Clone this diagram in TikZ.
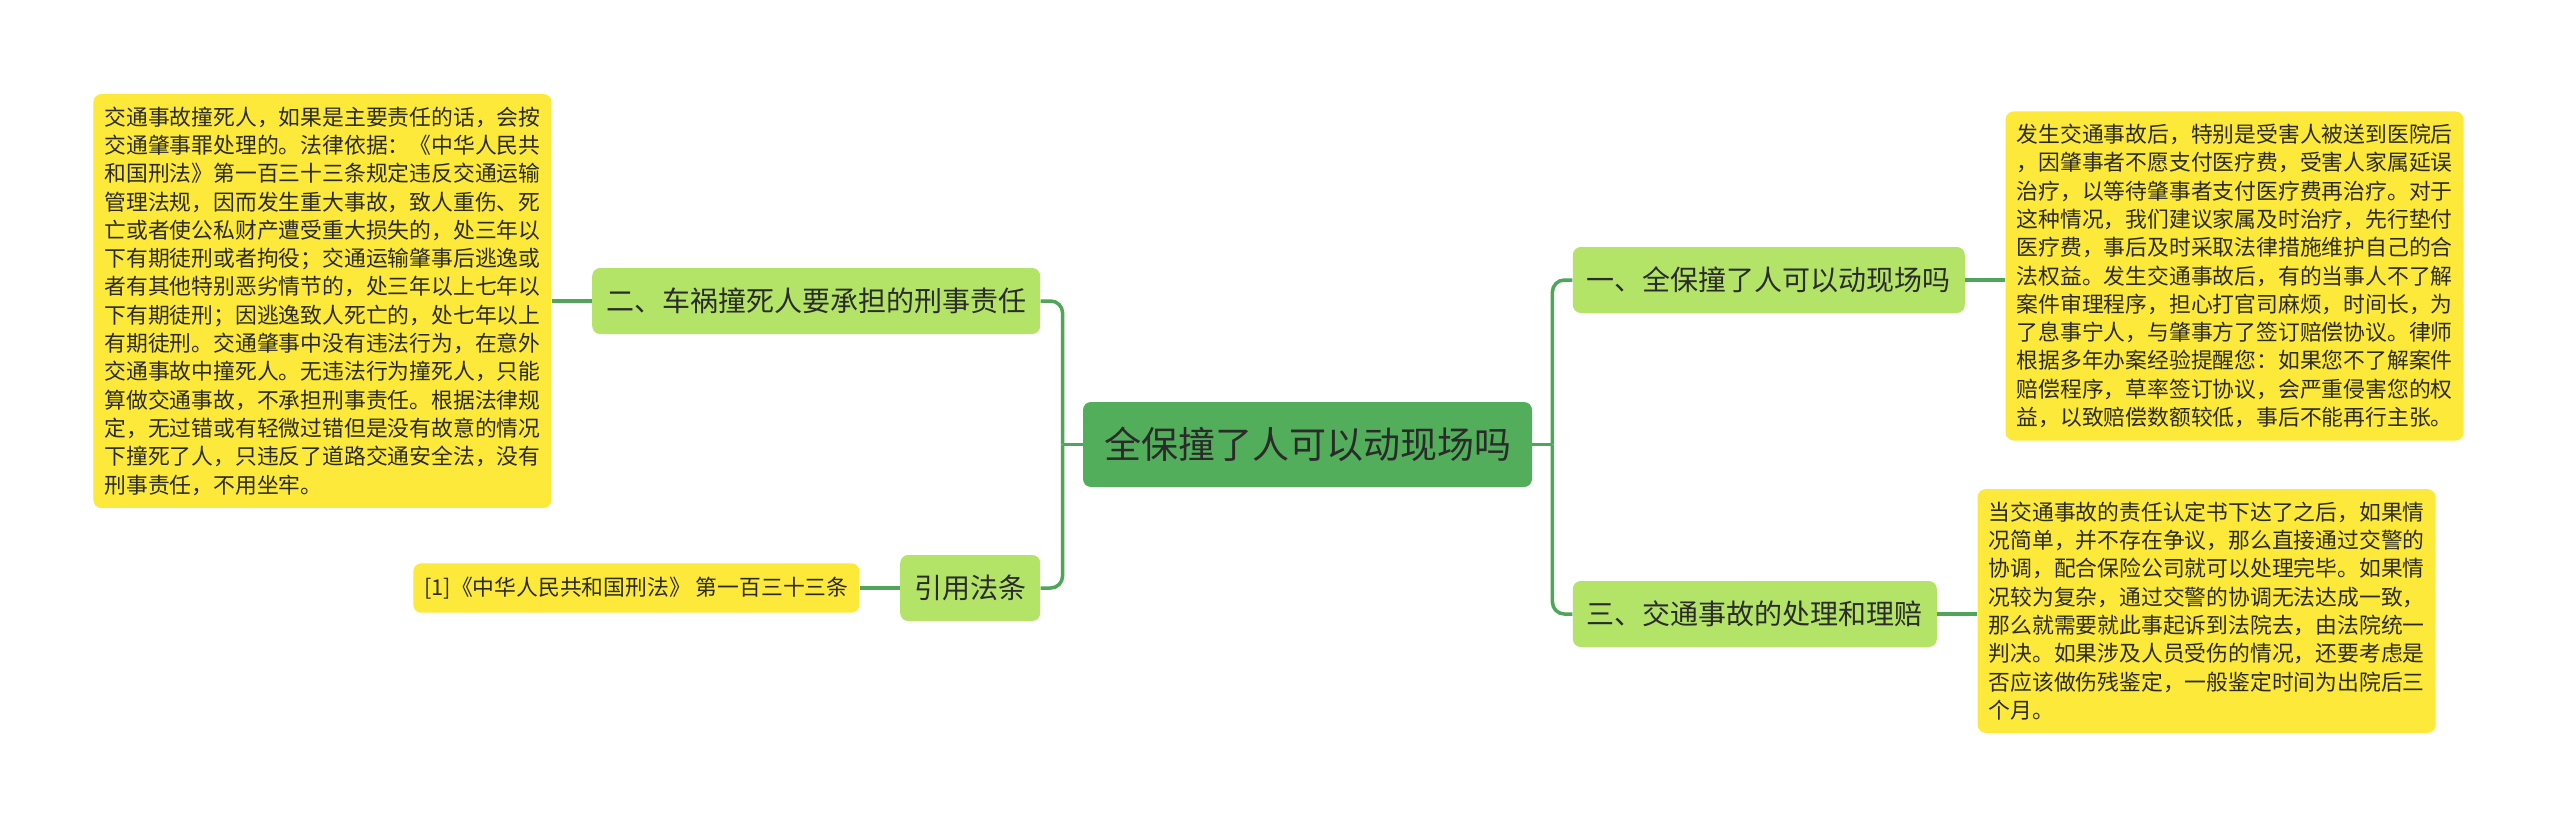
\documentclass[tikz,border=0pt]{standalone}
\usepackage{fontspec}
\setmainfont{Noto Sans CJK SC}
\usepackage{tikz}
\usetikzlibrary{positioning}
\usepackage{xcolor}
\definecolor{rootgreen}{HTML}{52AE5A}
\definecolor{subgreen}{HTML}{B3E467}
\definecolor{noteyellow}{HTML}{FDE93A}
\definecolor{linkgreen}{HTML}{4FA65A}
\definecolor{inkgray}{HTML}{2B2B2B}
\tikzset{
    topic/.style={rectangle, fill=rootgreen, rounded corners=4pt,
                  minimum height=42.5pt, inner xsep=10.5pt, text=inkgray,
                  font=\fontsize{18.5}{22}\selectfont},
    sub/.style={rectangle, fill=subgreen, rounded corners=4pt,
                minimum height=33pt, inner xsep=7pt, text=inkgray,
                font=\fontsize{14}{17}\selectfont},
    note/.style={rectangle, fill=noteyellow, rounded corners=4pt,
                 inner xsep=5.5pt, inner ysep=6.3pt, align=left, text=inkgray,
                 font=\fontsize{10.9}{14.15}\selectfont},
    link/.style={draw=linkgreen, line width=1.75pt},
}

\begin{document}
\begin{tikzpicture}[node distance=20pt]
    \useasboundingbox[fill=white] (0,0) rectangle (1280pt,-414.5pt);

    \node[topic] (root) at (653.75pt,-222.25pt) {全保撞了人可以动现场吗};
    \node[sub, left=21pt of root, yshift=71.75pt]   (crime) {二、车祸撞死人要承担的刑事责任};
    \node[sub, left=21pt of root, yshift=-71.75pt]  (law)   {引用法条};
    \node[sub, right=of root, yshift=82.25pt]       (scene) {一、全保撞了人可以动现场吗};
    \node[sub, right=of root, yshift=-84.75pt]      (claim) {三、交通事故的处理和理赔};

    \node[note, left=of crime] (crimetxt) {交通事故撞死人，如果是主要责任的话，会按\\
        交通肇事罪处理的。法律依据：《中华人民共\\
        和国刑法》第一百三十三条规定违反交通运输\\
        管理法规，因而发生重大事故，致人重伤、死\\
        亡或者使公私财产遭受重大损失的，处三年以\\
        下有期徒刑或者拘役；交通运输肇事后逃逸或\\
        者有其他特别恶劣情节的，处三年以上七年以\\
        下有期徒刑；因逃逸致人死亡的，处七年以上\\
        有期徒刑。交通肇事中没有违法行为，在意外\\
        交通事故中撞死人。无违法行为撞死人，只能\\
        算做交通事故，不承担刑事责任。根据法律规\\
        定，无过错或有轻微过错但是没有故意的情况\\
        下撞死了人，只违反了道路交通安全法，没有\\
        刑事责任，不用坐牢。};
    \node[note, left=of law, inner ysep=6.8pt] (lawtxt)
        {[1]《中华人民共和国刑法》 第一百三十三条};
    \node[note, right=of scene, yshift=2pt] (scenetxt) {发生交通事故后，特别是受害人被送到医院后\\
        ，因肇事者不愿支付医疗费，受害人家属延误\\
        治疗，以等待肇事者支付医疗费再治疗。对于\\
        这种情况，我们建议家属及时治疗，先行垫付\\
        医疗费，事后及时采取法律措施维护自己的合\\
        法权益。发生交通事故后，有的当事人不了解\\
        案件审理程序，担心打官司麻烦，时间长，为\\
        了息事宁人，与肇事方了签订赔偿协议。律师\\
        根据多年办案经验提醒您：如果您不了解案件\\
        赔偿程序，草率签订协议，会严重侵害您的权\\
        益，以致赔偿数额较低，事后不能再行主张。};
    \node[note, right=of claim, yshift=1.5pt] (claimtxt) {当交通事故的责任认定书下达了之后，如果情\\
        况简单，并不存在争议，那么直接通过交警的\\
        协调，配合保险公司就可以处理完毕。如果情\\
        况较为复杂，通过交警的协调无法达成一致，\\
        那么就需要就此事起诉到法院去，由法院统一\\
        判决。如果涉及人员受伤的情况，还要考虑是\\
        否应该做伤残鉴定，一般鉴定时间为出院后三\\
        个月。};

    % branches
    \draw[link] (root.west) -- ++(-10pt,0) coordinate (lhub);
    \draw[link, rounded corners=6pt] (lhub) |- (crime.east);
    \draw[link, rounded corners=6pt] (lhub) |- (law.east);
    \draw[link] (root.east) -- ++(10pt,0) coordinate (rhub);
    \draw[link, rounded corners=6pt] (rhub) |- (scene.west);
    \draw[link, rounded corners=6pt] (rhub) |- (claim.west);

    % leaves
    \draw[link] (crime.west) -- (crimetxt.east);
    \draw[link] (law.west)   -- (lawtxt.east);
    \draw[link] (scene.east) -- (scene.east -| scenetxt.west);
    \draw[link] (claim.east) -- (claim.east -| claimtxt.west);
\end{tikzpicture}
\end{document}
